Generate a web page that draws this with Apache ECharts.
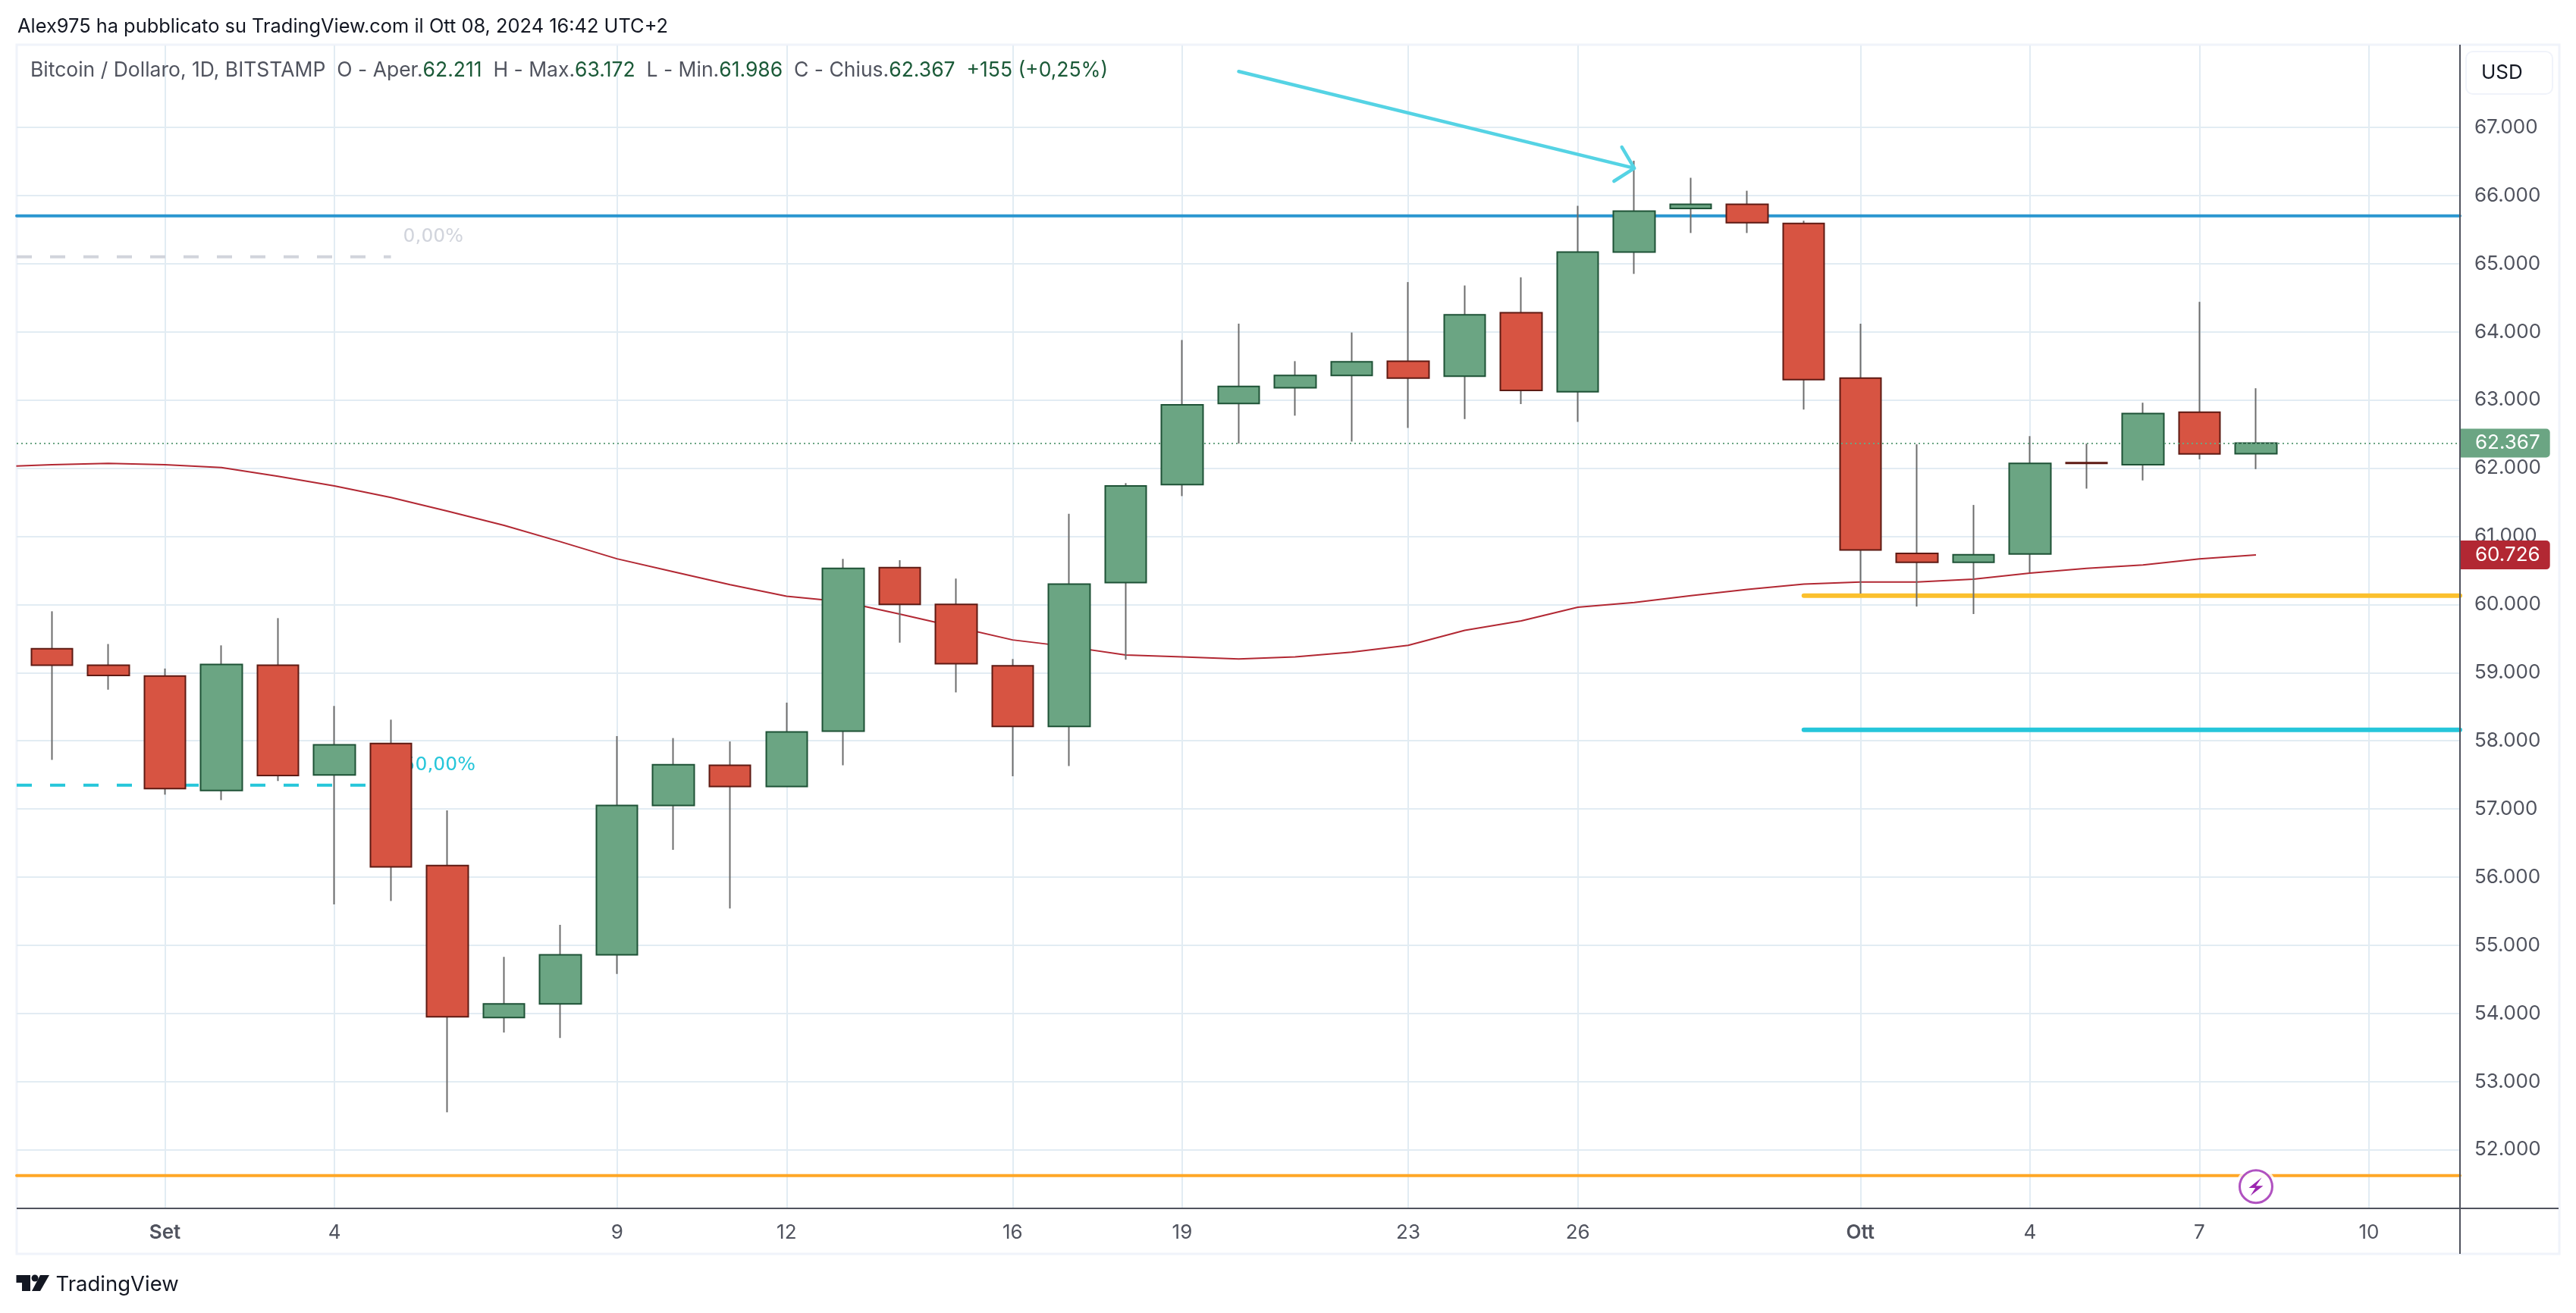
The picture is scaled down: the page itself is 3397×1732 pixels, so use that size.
<!DOCTYPE html>
<html>
<head>
<meta charset="utf-8">
<style>html,body{margin:0;padding:0;background:#fff}#c{width:3397px;height:1732px}</style>
<script src="https://cdn.jsdelivr.net/npm/echarts@6/dist/echarts.min.js"></script>
</head>
<body>
<div id="c"></div>
<script>
// day index: 0 = Sep 1, 30 = Oct 1
const days = [-2,-1,0,1,2,3,4,5,6,7,8,9,10,11,12,13,14,15,16,17,18,19,20,21,22,23,24,25,26,27,28,29,30,31,32,33,34,35,36,37];
const opens = [59350,59110,58950,57270,59110,57500,57960,56170,53940,54140,54860,57050,57640,57330,58140,60540,60000,59100,58210,60320,61760,62950,63180,63360,63570,63350,64280,63120,65170,65810,65870,65590,63320,60750,60620,60740,62080,62050,62820,62211];
const closes = [59110,58960,57300,59120,57490,57940,56150,53950,54140,54860,57050,57650,57330,58130,60530,60000,59130,58210,60300,61740,62930,63200,63360,63560,63320,64250,63140,65170,65770,65870,65600,63300,60800,60620,60730,62070,62070,62800,62210,62367];
const lows = [57720,58750,57210,57130,57410,55600,55650,52550,53720,53640,54580,56400,55540,57330,57640,59440,58710,57480,57630,59190,61590,62360,62770,62390,62590,62720,62940,62680,64850,65450,65450,62860,60160,59970,59860,60470,61700,61820,62130,61986];
const highs = [59900,59420,59060,59400,59800,58510,58310,56980,54830,55300,58070,58040,57990,58560,60670,60650,60380,59200,61330,61780,63880,64120,63570,63990,64730,64680,64800,65850,66510,66260,66070,65630,64120,62350,61460,62470,62360,62960,64440,63172];
const maDays = [-2.63,-2,-1,0,1,2,3,4,5,6,7,8,9,10,11,12,13,14,15,16,17,18,19,20,21,22,23,24,25,26,27,28,29,30,31,32,33,34,35,36,37];
const maValues = [62030,62050,62070,62050,62010,61880,61740,61570,61370,61160,60920,60670,60480,60290,60120,60040,59860,59670,59480,59380,59260,59230,59200,59230,59300,59400,59620,59760,59960,60030,60130,60220,60300,60330,60330,60370,60460,60530,60580,60670,60726];
const xTicks = [0,3,8,11,15,18,22,25,30,33,36,39];
const xTickLabels = ['Set','4','9','12','16','19','23','26','Ott','4','7','10'];
const yTicks = [52000,53000,54000,55000,56000,57000,58000,59000,60000,61000,62000,63000,64000,65000,66000,67000];
const levelBlue = 65700, levelOrange = 51620, levelYellow = 60130, levelCyan = 58160;
const fibGrey = 65100, fibCyan = 57350, fibEnd = 4, levelStart = 29;
const arrowPts = [[19,67820],[26,66400],[25.78,66710],[26,66400],[25.64,66210]];
const iconDay = 37, iconValue = 51460;
const lastClose = 62367, lastMa = 60726;
const xMin = -2.623, xMax = 40.61, yMin = 51140, yMax = 68201;

const GREEN='#6BA583', RED='#D75442', DKGREEN='#1E5236', DKRED='#5E1A13', TICK='#50535E', GRID='#E2ECF3';
const F='Inter, "Noto Sans", sans-serif';
const fmtPrice = v => (v/1000).toFixed(3);
const levelLine = (name, from, to, val, color, width, extra) => Object.assign({
  type:'line', name, z:1, showSymbol:false, symbol:'none', silent:true, animation:false,
  data:[[from,val],[to,val]],
  lineStyle:{color, width, cap:'round'}
}, extra||{});
const fibLabel = (text,color) => ({show:true, formatter:text, color, fontFamily:'"DejaVu Sans"', fontSize:25, distance:16, offset:[0,-26]});

const chart = echarts.init(document.getElementById('c'), null, {renderer:'canvas', width:3397, height:1732});
chart.setOption({
  animation:false,
  backgroundColor:'#fff',
  grid:{left:22, right:153, top:60, bottom:138, containLabel:false},
  title:[
    {left:23, top:20, text:'Alex975 ha pubblicato su TradingView.com il Ott 08, 2024 16:42 UTC+2',
     textStyle:{fontFamily:F, fontSize:25.4, fontWeight:400, color:'#131722', lineHeight:30}, padding:0},
    {left:40, top:78, padding:0, text:
      '{l|Bitcoin / Dollaro, 1D, BITSTAMP  O - Aper.}{v|62.211}{l|  H - Max.}{v|63.172}{l|  L - Min.}{v|61.986}{l|  C - Chius.}{v|62.367}{v|  +155 (+0,25%)}',
     textStyle:{fontWeight:400, rich:{
       l:{fontFamily:F, fontSize:26.5, fontWeight:400, color:'#50535E', lineHeight:30},
       v:{fontFamily:F, fontSize:26.5, fontWeight:400, color:'#1B5A38', lineHeight:30}
     }}}
  ],
  xAxis:{type:'value', min:xMin, max:xMax, scale:true,
    axisLine:{show:false},
    axisTick:{show:false, customValues:xTicks},
    axisLabel:{customValues:xTicks, margin:19, fontFamily:F, fontSize:26, color:TICK,
      formatter:v => { const s = xTickLabels[xTicks.indexOf(v)]; return (s==='Set'||s==='Ott') ? '{b|'+s+'}' : s; },
      rich:{b:{fontFamily:F, fontSize:26, fontWeight:600, color:TICK}}},
    splitLine:{show:true, lineStyle:{color:GRID, width:2}}
  },
  yAxis:{type:'value', position:'right', min:yMin, max:yMax, scale:true,
    axisLine:{show:false},
    axisTick:{show:false, customValues:yTicks},
    axisLabel:{customValues:yTicks, margin:19, fontFamily:F, fontSize:26, color:TICK, formatter:fmtPrice},
    splitLine:{show:true, lineStyle:{color:GRID, width:2}}
  },
  series:[
    levelLine('Resistance', xMin, xMax, levelBlue, '#2A96D0', 4),
    levelLine('Support', xMin, xMax, levelOrange, '#FFA726', 4),
    levelLine('Level yellow', levelStart, xMax, levelYellow, '#FBC02D', 6),
    levelLine('Level cyan', levelStart, xMax, levelCyan, '#26C6DA', 6),
    levelLine('Fib 0', xMin, fibEnd, fibGrey, '#D1D4DC', 4, {lineStyle:{color:'#D1D4DC',width:4,type:[20,24]}, endLabel:fibLabel('0,00%','#D1D4DC')}),
    levelLine('Fib 50', xMin, fibEnd, fibCyan, '#26C6DA', 4, {lineStyle:{color:'#26C6DA',width:4,type:[20,24]}, endLabel:fibLabel('50,00%','#26C6DA')}),
    {type:'line', name:'MA', z:2, showSymbol:false, symbol:'none', silent:true,
     data:maDays.map((d,i)=>[d,maValues[i]]), lineStyle:{color:'#B22833', width:2},
     markLine:{silent:true, symbol:'none', z:6, animation:false,
       data:[{yAxis:lastMa}], lineStyle:{color:'transparent', width:1},
       label:{show:true, position:'end', distance:1, formatter:fmtPrice(lastMa), color:'#fff', fontFamily:F, fontSize:26,
         backgroundColor:'#B22833', padding:[6,13,6,19], borderRadius:[0,5,5,0], lineHeight:26}}
    },
    {type:'candlestick', name:'Wicks', z:3, silent:true, barWidth:1,
     encode:{x:0,y:[1,2,3,4]},
     data:days.map((d,i)=>[d,opens[i],closes[i],lows[i],highs[i]]),
     itemStyle:{color:'#6C6C6C',color0:'#6C6C6C',borderColor:'#6C6C6C',borderColor0:'#6C6C6C',borderWidth:2}},
    {type:'candlestick', name:'BTCUSD', z:4, silent:true, barWidth:55,
     encode:{x:0,y:[1,2,3,4]},
     data:days.map((d,i)=>[d,opens[i],closes[i],Math.min(opens[i],closes[i]),Math.max(opens[i],closes[i])]),
     itemStyle:{color:GREEN,color0:RED,borderColor:DKGREEN,borderColor0:DKRED,borderWidth:2},
     markLine:{silent:true, symbol:'none', z:6, animation:false,
       data:[{yAxis:lastClose}], lineStyle:{color:GREEN, width:2, type:[2,4]},
       label:{show:true, position:'end', distance:1, formatter:fmtPrice(lastClose), color:'#fff', fontFamily:F, fontSize:26,
         backgroundColor:GREEN, padding:[6,13,6,19], borderRadius:[0,5,5,0], lineHeight:26}}
    },
    {type:'line', name:'Arrow', z:7, showSymbol:false, symbol:'none', silent:true,
     data:arrowPts, lineStyle:{color:'#55D3E4', width:4.5, cap:'round', join:'round'}},
    {type:'scatter', name:'Event', z:8, silent:true,
     data:[
       {value:[iconDay,iconValue], symbol:'circle', symbolSize:53, itemStyle:{color:'#fff'}},
       {value:[iconDay,iconValue], symbol:'circle', symbolSize:43, itemStyle:{color:'#fff',borderColor:'#9C27B0',borderWidth:3}},
       {value:[iconDay,iconValue], symbol:'path://M480 310 L435 350 L458 350 L441 380 L485 342 L460 342 Z', symbolSize:[19,24], itemStyle:{color:'#9C27B0',opacity:1}}
     ]}
  ],
  graphic:[
    {type:'rect', z:-1, silent:true, shape:{x:22,y:59,width:3353,height:1595}, style:{fill:'none',stroke:'#F0F3FA',lineWidth:3}},
    {type:'line', z:10, silent:true, shape:{x1:22,y1:1594,x2:3374,y2:1594}, style:{stroke:TICK,lineWidth:2}},
    {type:'line', z:10, silent:true, shape:{x1:3244,y1:59,x2:3244,y2:1654}, style:{stroke:TICK,lineWidth:2}},
    {type:'rect', z:10, silent:true, shape:{x:3252,y:68,width:114,height:56,r:9}, style:{fill:'#fff',stroke:'#F0F3FA',lineWidth:2}},
    {type:'text', z:11, silent:true, x:3272, y:96, style:{text:'USD',fontFamily:F,fontSize:26,fill:'#131722',verticalAlign:'middle'}},
    {type:'polygon', z:11, silent:true, shape:{points:[[21.5,1682],[40,1682],[40,1703],[29,1703],[29,1692],[21.5,1692]]}, style:{fill:'#131722'}},
    {type:'circle', z:11, silent:true, shape:{cx:46,cy:1686,r:4.5}, style:{fill:'#131722'}},
    {type:'polygon', z:11, silent:true, shape:{points:[[53,1682],[65,1682],[53,1703],[42,1703]]}, style:{fill:'#131722'}},
    {type:'text', z:11, silent:true, x:73.5, y:1695, style:{text:'TradingView',fontFamily:F,fontSize:27.5,fill:'#131722',verticalAlign:'middle'}}
  ]
});
</script>
</body>
</html>
